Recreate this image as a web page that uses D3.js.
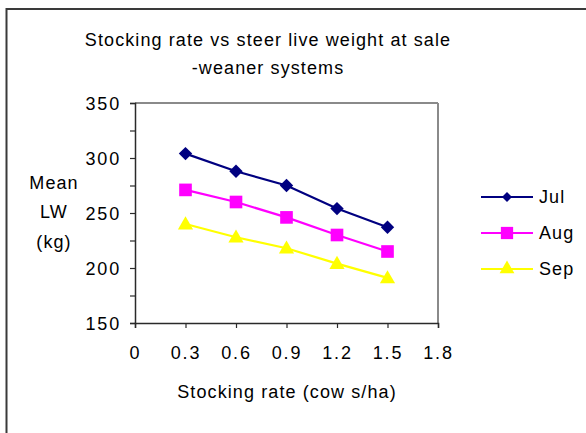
<!DOCTYPE html>
<html><head><meta charset="utf-8">
<script src="https://cdn.jsdelivr.net/npm/d3@7"></script>
<style>body{margin:0;background:#fff}svg{display:block}text{font-family:"Liberation Sans",Arial,sans-serif;fill:#000}</style>
</head><body>
<script>
const stockingRates = [0.3, 0.6, 0.9, 1.2, 1.5];
const julValues = [304, 288, 275, 254, 237];
const augValues = [271, 260, 246, 230, 215];
const sepValues = [240, 228, 218, 204, 191];
const seriesNames = ["Jul", "Aug", "Sep"];
const xTicks = [0, 0.3, 0.6, 0.9, 1.2, 1.5, 1.8];
const yTicks = [150, 200, 250, 300, 350];
const yMinorTicks = [150, 175, 200, 225, 250, 275, 300, 325, 350];

const W = 586, H = 433;
const FS = 18, LS = "1.1px";
const svg = d3.select("body").append("svg").attr("width", W).attr("height", H);

// outer frame
svg.append("rect").attr("x", 6.5).attr("y", 9).attr("width", 620).attr("height", 460)
  .attr("fill", "none").attr("stroke", "#3a3a3a").attr("stroke-width", 2);

const L = 135, R = 438, T = 103, B = 323;
const x = d3.scaleLinear().domain([0, 1.8]).range([L, R]);
const y = d3.scaleLinear().domain([150, 350]).range([B, T]);

function txt(sel) { return sel.attr("font-size", FS).style("letter-spacing", LS); }

// title
txt(svg.append("text").attr("x", 268).attr("y", 46).attr("text-anchor", "middle"))
  .text("Stocking rate vs steer live weight at sale");
txt(svg.append("text").attr("x", 268).attr("y", 74).attr("text-anchor", "middle"))
  .text("-weaner systems");

// plot border top/right
svg.append("line").attr("x1", L).attr("x2", R).attr("y1", T).attr("y2", T).attr("stroke", "#8a8a8a").attr("stroke-width", 2);
svg.append("line").attr("x1", R).attr("x2", R).attr("y1", T).attr("y2", B).attr("stroke", "#8a8a8a").attr("stroke-width", 2);

// y axis
const yAxis = d3.axisLeft(y).tickValues(yMinorTicks).tickSize(5).tickFormat(d => yTicks.includes(d) ? d : "");
const gy = svg.append("g").attr("transform", `translate(${L},0)`).call(yAxis);
gy.select(".domain").attr("stroke", "#2a2a2a").attr("stroke-width", 1.5);
gy.selectAll(".tick line").attr("stroke", "#2a2a2a").attr("stroke-width", 1.2);
gy.selectAll(".tick text").attr("font-size", FS).style("letter-spacing", "1.8px").attr("x", -14).attr("dy", "0.36em")
  .style("font-family", '"Liberation Sans",Arial,sans-serif').attr("fill", "#000");

// x axis
const xAxis = d3.axisBottom(x).tickValues(xTicks).tickSize(5).tickFormat(d3.format(""));
const gx = svg.append("g").attr("transform", `translate(0,${B})`).call(xAxis);
gx.select(".domain").attr("stroke", "#2a2a2a").attr("stroke-width", 1.5);
gx.selectAll(".tick line").attr("stroke", "#2a2a2a").attr("stroke-width", 1.2);
gx.selectAll(".tick text").attr("font-size", FS).style("letter-spacing", "1.8px").attr("y", 30).attr("dy", "0.36em")
  .style("font-family", '"Liberation Sans",Arial,sans-serif').attr("fill", "#000");

// axis titles
[["Mean", 189], ["LW", 218], ["(kg)", 248]].forEach(([t, yy]) => {
  txt(svg.append("text").attr("x", 54).attr("y", yy).attr("text-anchor", "middle")).text(t);
});
txt(svg.append("text").attr("x", 287).attr("y", 398).attr("text-anchor", "middle"))
  .text("Stocking rate (cow s/ha)");

const diamond = {draw(ctx, size) { const r = Math.sqrt(size) / 2 * Math.SQRT2; ctx.moveTo(0, -r); ctx.lineTo(r, 0); ctx.lineTo(0, r); ctx.lineTo(-r, 0); ctx.closePath(); }};

const series = [
  {name: seriesNames[0], values: julValues, color: "#000080", shape: diamond, size: 90, lsize: 50},
  {name: seriesNames[1], values: augValues, color: "#FF00FF", shape: d3.symbolSquare, size: 160, lsize: 150},
  {name: seriesNames[2], values: sepValues, color: "#FFFF00", shape: d3.symbolTriangle, size: 100, lsize: 95},
];

const line = d3.line().x((d, i) => x(stockingRates[i])).y(d => y(d));
series.forEach(s => {
  svg.append("path").attr("d", line(s.values)).attr("fill", "none").attr("stroke", s.color).attr("stroke-width", 2.2);
  svg.selectAll(null).data(s.values).enter().append("path")
    .attr("d", d3.symbol().type(s.shape).size(s.size))
    .attr("transform", (d, i) => `translate(${x(stockingRates[i])},${y(d) + (s.shape === d3.symbolTriangle ? 1 : 0)})`)
    .attr("fill", s.color);
});

// legend
series.forEach((s, i) => {
  const ly = 197 + i * 36;
  svg.append("line").attr("x1", 481).attr("x2", 533).attr("y1", ly).attr("y2", ly).attr("stroke", s.color).attr("stroke-width", 2.2);
  svg.append("path").attr("d", d3.symbol().type(s.shape).size(s.lsize)).attr("transform", `translate(507,${ly})`).attr("fill", s.color);
  txt(svg.append("text").attr("x", 539).attr("y", ly).attr("dy", "0.36em")).text(s.name);
});
</script>
</body></html>
